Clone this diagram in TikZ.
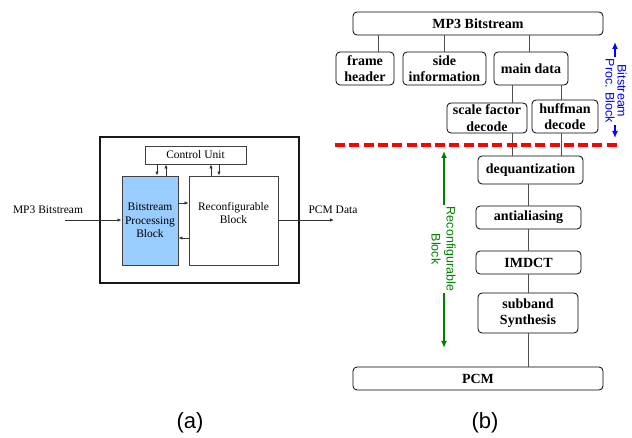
\documentclass[tikz,border=0pt]{standalone}
\usepackage{fontspec}
\setmainfont{Liberation Serif}
\newfontfamily\sansf{Liberation Sans}
\usetikzlibrary{arrows.meta,calc}
\definecolor{bpbfill}{RGB}{153,204,255}
\definecolor{linkgrey}{RGB}{80,80,80}
\definecolor{procblue}{RGB}{0,0,255}
\definecolor{reconfgreen}{RGB}{0,128,0}
\tikzset{
  stagebox/.style={draw=black, line width=0.8pt, rounded corners=4pt, align=center,
    inner sep=0pt, font=\fontsize{14}{16.5}\selectfont\bfseries},
  link/.style={draw=linkgrey, line width=0.9pt},
  blockbox/.style={draw=black!75, line width=0.9pt, inner sep=0pt, align=center,
    font=\fontsize{11.5}{13.5}\selectfont},
  plain/.style={inner sep=0pt, align=center, font=\fontsize{11.5}{13.5}\selectfont},
  sig/.style={draw=black!80, line width=0.8pt, -{Latex[length=4pt,width=3.5pt]}},
  sideLabel/.style={rotate=-90, align=center, inner sep=2pt, font=\sansf\fontsize{12.5}{12}\selectfont},
  span/.style={line width=1.6pt, -{Latex[length=7pt,width=6pt]}},
  caption/.style={font=\sansf\fontsize{22}{24}\selectfont, inner sep=0pt}
}
\begin{document}
\begin{tikzpicture}[x=1pt, y=-1pt]
\useasboundingbox (0,0) rectangle (632,438);

% ---------------- (a) block diagram ----------------
\node[draw=black!90, line width=1.1pt, minimum width=199pt, minimum height=146pt, inner sep=0pt] (outer) at (199.5,210) {};
\node[blockbox, minimum width=101pt, minimum height=18pt] (ctrl) at (195.5,155) {Control Unit};
\node[blockbox, fill=bpbfill, minimum width=56pt, minimum height=89pt] (bpb) at (150,220.5) {Bitstream\\Processing\\Block};
\node[blockbox, minimum width=89pt, minimum height=89pt] (rb) at (233.5,220.5) {};
\node[plain] (rbtext) at (233.5,213) {Reconfigurable\\Block};

\coordinate (inp) at (65,220);
\coordinate (outp) at (334,220);
\node[plain] (inlabel) at (48,210) {MP3 Bitstream};
\node[plain] (outlabel) at (333,210) {PCM Data};
\draw[sig] (inp) -- (inp -| bpb.west);
\draw[sig] (outp -| rb.east) -- (outp);

\draw[sig] ([yshift=17.5pt]bpb.east) -- ([yshift=17.5pt]bpb.east -| rb.west);
\draw[sig] ([yshift=-17.5pt]rb.west) -- ([yshift=-17.5pt]rb.west -| bpb.east);

\draw[sig] ([xshift=7pt]bpb.north |- ctrl.south) -- ([xshift=7pt]bpb.north);
\draw[sig] ([xshift=16pt]bpb.north) -- ([xshift=16pt]bpb.north |- ctrl.south);
\draw[sig] ([xshift=-22.5pt]rb.north) -- ([xshift=-22.5pt]rb.north |- ctrl.south);
\draw[sig] ([xshift=-14.5pt]rb.north |- ctrl.south) -- ([xshift=-14.5pt]rb.north);

\node[caption] (capa) at (190,423) {(a)};

% ---------------- (b) decoding flow ----------------
\node[stagebox, minimum width=250pt, minimum height=23pt] (mp3) at (478,23.5) {MP3 Bitstream};
\node[stagebox, minimum width=58pt, minimum height=33pt] (frame) at (365,68.5) {frame\\header};
\node[stagebox, minimum width=83pt, minimum height=33pt] (side) at (444.5,68.5) {side\\information};
\node[stagebox, minimum width=74pt, minimum height=33pt] (main) at (531,68.5) {main data};
\node[stagebox, minimum width=80pt, minimum height=30pt] (scale) at (487,118) {scale factor\\decode};
\node[stagebox, minimum width=66pt, minimum height=33pt] (huff) at (565,116.5) {huffman\\decode};
\node[stagebox, minimum width=105pt, minimum height=28pt] (deq) at (530.5,170) {dequantization};
\node[stagebox, minimum width=105pt, minimum height=23pt] (anti) at (528.5,217.5) {antialiasing};
\node[stagebox, minimum width=105pt, minimum height=23pt] (imdct) at (528.5,262.5) {IMDCT};
\node[stagebox, minimum width=100pt, minimum height=40pt] (synth) at (528,313) {subband\\Synthesis};
\node[stagebox, minimum width=250pt, minimum height=23pt] (pcm) at (478,378.5) {PCM};

\draw[link] ([xshift=13pt]frame.north) -- ([xshift=13pt]frame.north |- mp3.south);
\draw[link] (side.north) -- (side.north |- mp3.south);
\draw[link] ([xshift=-2pt]main.north) -- ([xshift=-2pt]main.north |- mp3.south);
\draw[link] ([xshift=25pt]scale.north |- main.south) -- ([xshift=25pt]scale.north);
\draw[link] ([xshift=-4pt]huff.north |- main.south) -- ([xshift=-4pt]huff.north);
\draw[link] ([xshift=25pt]scale.south) -- ([xshift=25pt]scale.south |- deq.north);
\draw[link] ([xshift=-4pt]huff.south) -- ([xshift=-4pt]huff.south |- deq.north);
\draw[link] (deq.south -| 528,0) -- (anti.north -| 528,0);
\draw[link] (anti.south -| 528,0) -- (imdct.north -| 528,0);
\draw[link] (imdct.south -| 528,0) -- (synth.north -| 528,0);
\draw[link] (synth.south -| 528,0) -- (pcm.north -| 528,0);

% partition between the two hardware blocks
\coordinate (cutL) at (335,145);
\coordinate (cutR) at (617,145);
\draw[red, line width=3.5pt, dash pattern=on 10pt off 4.3pt] (cutL) -- (cutR);

% bitstream processing span
\node[sideLabel, text=procblue] (procLabel) at (616,91) {Bitstream\\Proc. Block};
\coordinate (procTop) at (615,42);
\coordinate (procBot) at (615,138);
\draw[span, procblue] (procLabel.west -| procTop) -- (procTop);
\draw[span, procblue] (procLabel.east -| procBot) -- (procBot);

% reconfigurable span
\node[sideLabel, text=reconfgreen, font=\sansf\fontsize{12.5}{15}\selectfont] (recLabel) at (443.5,249) {Reconfigurable\\Block};
\coordinate (recTop) at (444,151);
\coordinate (recBot) at (444,348);
\draw[span, reconfgreen] (recLabel.west -| recTop) -- (recTop);
\draw[span, reconfgreen] (recLabel.east -| recBot) -- (recBot);

\node[caption] (capb) at (485,423) {(b)};
\end{tikzpicture}
\end{document}
